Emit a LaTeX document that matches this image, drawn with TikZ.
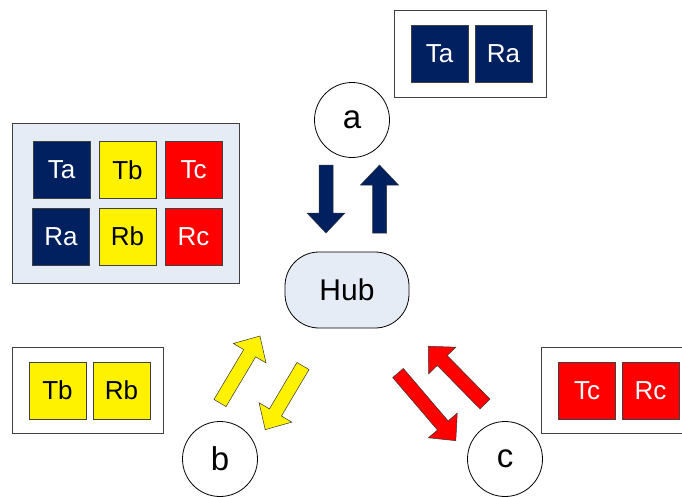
\documentclass[tikz,border=0pt]{standalone}
\usepackage{fontspec}
\setmainfont{Liberation Sans}
\usetikzlibrary{shapes.geometric}
\definecolor{navy}{HTML}{002060}
\definecolor{paleblue}{HTML}{E6ECF6}
\definecolor{boxline}{HTML}{404040}

\tikzset{
  frame/.style={draw=boxline, line width=0.9pt, fill=white},
  tile/.style={draw=boxline, line width=0.6pt, minimum size=57pt, inner sep=0pt,
    font=\fontsize{26}{29}\selectfont},
  navytile/.style={tile, fill=navy, text=white},
  yellowtile/.style={tile, fill=yellow, text=black},
  redtile/.style={tile, fill=red, text=white},
  station/.style={circle, draw=black, line width=0.8pt, fill=white, minimum size=75pt,
    inner sep=0pt, font=\fontsize{33}{36}\selectfont},
  hubnode/.style={draw=black, line width=0.8pt, fill=paleblue, rounded corners=34pt,
    minimum width=124pt, minimum height=76pt, font=\fontsize{30}{34}\selectfont},
}

% block arrow: tail centre, direction angle, overall length, fill colour
\newcommand\blockarrow[4]{%
  \filldraw[fill=#4, draw=black!80, line width=0.5pt, shift={#1}, rotate=#2]
    (0,-7) -- ({#3-20},-7) -- ({#3-20},-19) -- (#3,0) -- ({#3-20},19)
    -- ({#3-20},7) -- (0,7) -- cycle;}

\begin{document}
\begin{tikzpicture}[x=1pt, y=-1pt]
  \useasboundingbox (0,0) rectangle (682,496);

  % station a with its own tiles
  \draw[frame] (394,10) rectangle (546,97);
  \node[navytile] (aTa) at (439.5,53.5) {Ta};
  \node[navytile] (aRa) at (503.5,53.5) {Ra};
  \node[station] (a) at (352,120) {a};

  % hub table with all tiles
  \draw[frame, fill=paleblue] (12,123) rectangle (239,283);
  \node[navytile] (hTa) at (61.5,170) {Ta};
  \node[yellowtile] (hTb) at (127.5,170) {Tb};
  \node[redtile] (hTc) at (193.5,170) {Tc};
  \node[navytile] (hRa) at (61,236.5) {Ra};
  \node[yellowtile] (hRb) at (127.5,236.5) {Rb};
  \node[redtile] (hRc) at (193.5,236.5) {Rc};

  \node[hubnode] (hub) at (347,290) {Hub};

  % station b with its own tiles
  \draw[frame] (12,347) rectangle (163,433);
  \node[yellowtile] (bTb) at (57.5,390.5) {Tb};
  \node[yellowtile] (bRb) at (121.5,390.5) {Rb};
  \node[station] (b) at (220,459) {b};

  % station c with its own tiles
  \draw[frame] (541,347) rectangle (694,433);
  \node[redtile] (cTc) at (587,390.5) {Tc};
  \node[redtile] (cRc) at (650.5,390.5) {Rc};
  \node[station] (c) at (505,459) {c};

  % traffic between hub and stations
  \blockarrow{(326,165)}{-90}{68}{navy}
  \blockarrow{(379.5,233)}{90}{68}{navy}
  \blockarrow{(220,403)}{59.2}{78}{yellow}
  \blockarrow{(303,366)}{-120.7}{74}{yellow}
  \blockarrow{(398,373)}{-49.5}{89}{red}
  \blockarrow{(485,404)}{134.5}{81}{red}
\end{tikzpicture}
\end{document}
